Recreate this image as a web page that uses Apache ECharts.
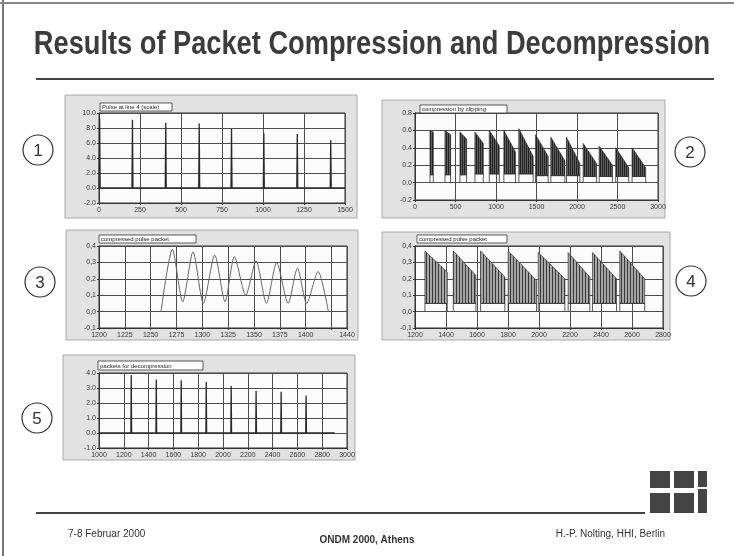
<!DOCTYPE html>
<html>
<head>
<meta charset="utf-8">
<script src="https://cdn.jsdelivr.net/npm/echarts@6/dist/echarts.min.js"></script>
<style>
html, body { margin: 0; padding: 0; background: #fff; }
#main { width: 734px; height: 556px; }
</style>
</head>
<body>
<div id="main"></div>
<script>
// chart 1: pulse at line
var pulseX1 = [4, 204, 407, 611, 808, 1005, 1209, 1413];
var pulsePeak1 = [9.3, 9.1, 8.7, 8.6, 7.9, 7.3, 7.2, 6.4];
var xLabels1 = ['0', '250', '500', '750', '1000', '1250', '1500'];
var yLabels1 = ['-2.0', '0.0', '2.0', '4.0', '6.0', '8.0', '10.0'];

// chart 2: compression, bursts
var burstStart2 = [185, 370, 555, 740, 917, 1097, 1282, 1488, 1677, 1870, 2076, 2273, 2478, 2680];
var burstEnd2 = [226, 440, 637, 843, 1040, 1241, 1459, 1644, 1850, 2035, 2240, 2437, 2639, 2848];
var burstTopA2 = [0.60, 0.60, 0.58, 0.58, 0.60, 0.60, 0.62, 0.55, 0.52, 0.52, 0.45, 0.42, 0.40, 0.40];
var burstTopB2 = [0.58, 0.55, 0.50, 0.45, 0.42, 0.35, 0.30, 0.30, 0.25, 0.22, 0.22, 0.20, 0.17, 0.17];
var burstLow2 = [0.09, 0.09, 0.09, 0.10, 0.10, 0.10, 0.10, 0.08, 0.08, 0.08, 0.07, 0.07, 0.07, 0.07];
var xLabels2 = ['0', '500', '1000', '1500', '2000', '2500', '3000'];
var yLabels2 = ['-0.2', '0.0', '0.2', '0.4', '0.6', '0.8'];

// chart 3: compressed pulse packet (zoomed)
var oscX3 = [1260, 1271, 1281, 1291, 1301, 1312, 1322, 1331, 1342, 1352, 1362, 1372, 1383, 1392, 1401, 1412, 1422];
var oscY3 = [0.0, 0.38, 0.06, 0.365, 0.05, 0.345, 0.06, 0.335, 0.10, 0.31, 0.05, 0.30, 0.05, 0.265, 0.05, 0.245, 0.0];
var xLabels3 = ['1200', '1225', '1250', '1275', '1300', '1325', '1350', '1375', '1400', '', '1440'];
var yLabels3 = ['-0,1', '0,0', '0,1', '0,2', '0,3', '0,4'];

// chart 4: compressed pulse packet
var burstStart4 = [1264, 1447, 1623, 1801, 1995, 2188, 2345, 2521];
var burstEnd4 = [1408, 1593, 1780, 1984, 2167, 2328, 2500, 2682];
var burstTopA4 = [0.37, 0.37, 0.37, 0.37, 0.36, 0.36, 0.36, 0.37];
var burstTopB4 = [0.24, 0.22, 0.21, 0.19, 0.20, 0.21, 0.20, 0.20];
var burstLow4 = [0.05, 0.05, 0.05, 0.05, 0.05, 0.05, 0.05, 0.05];
var xLabels4 = ['1200', '1400', '1600', '1800', '2000', '2200', '2400', '2600', '2800'];
var yLabels4 = ['-0,1', '0,0', '0,1', '0,2', '0,3', '0,4'];

// chart 5: packets for decompression
var pulseX5 = [1260, 1462, 1663, 1865, 2066, 2267, 2469, 2670];
var pulsePeak5 = [3.85, 3.57, 3.52, 3.40, 3.13, 2.80, 2.75, 2.50];
var xLabels5 = ['1000', '1200', '1400', '1600', '1800', '2000', '2200', '2400', '2600', '2800', '3000'];
var yLabels5 = ['-1.0', '0.0', '1.0', '2.0', '3.0', '4.0'];

var panelTitles = ['Pulse at line 4 (scale)', 'compression by clipping', 'compressed pulse packet',
    'compressed pulse packet', 'packets for decompression'];

// hatch pattern (transparent gaps) laid over a flat grey fill
function stripes(w, dark) {
    var c = document.createElement('canvas');
    c.width = w; c.height = 4;
    var ctx = c.getContext('2d');
    ctx.fillStyle = dark;
    ctx.fillRect(0, 0, 1, 4);
    return c;
}
var hatch2 = stripes(2, '#222222');
var hatch4 = stripes(3, '#383838');

function pulseLine(xs, peaks, x0, x1) {
    var pts = [[x0, 0]];
    for (var i = 0; i < xs.length; i++) {
        pts.push([xs[i] - 3, 0], [xs[i], peaks[i]], [xs[i] + 3, 0]);
    }
    pts.push([x1, 0]);
    return pts;
}

function burstData(s, e, a, b, lo) {
    var d = [];
    for (var i = 0; i < s.length; i++) d.push([s[i], e[i], a[i], b[i], lo[i]]);
    return d;
}

function burstRender(hatch, base) {
    return function (params, api) {
        var s = api.value(0), e = api.value(1), ta = api.value(2), tb = api.value(3), lo = api.value(4);
        var poly = [api.coord([s, lo]), api.coord([s, ta]), api.coord([e, tb]), api.coord([e, lo])];
        var step = [api.coord([s, 0]), api.coord([s, lo]), api.coord([e, lo]), api.coord([e, 0])];
        return {
            type: 'group',
            children: [
                { type: 'polygon', shape: { points: poly }, style: { fill: base, stroke: null } },
                { type: 'polygon', shape: { points: poly },
                  style: { fill: { image: hatch, repeat: 'repeat' }, stroke: '#333', lineWidth: 0.7 } },
                { type: 'polyline', shape: { points: step },
                  style: { fill: null, stroke: '#333', lineWidth: 0.8 } }
            ]
        };
    };
}

function labelFmt(labels) {
    return function (v, idx) { return labels[idx] !== undefined ? labels[idx] : ''; };
}

function makeAxis(dim, i, min, max, interval, labels) {
    return {
        type: 'value', gridIndex: i, min: min, max: max, interval: interval,
        axisLine: { show: true, onZero: false, lineStyle: { color: '#333', width: 1 } },
        axisTick: { show: true, length: 2, lineStyle: { color: '#333' } },
        splitLine: { show: true, lineStyle: { color: '#4d4d4d', width: 1 } },
        axisLabel: { fontSize: 7, color: '#333', margin: dim === 'x' ? 4 : 3,
            fontFamily: 'Liberation Sans', formatter: labelFmt(labels) }
    };
}

var grids = [
    { left: 99, top: 113, width: 246, height: 90 },
    { left: 415, top: 113, width: 243, height: 87 },
    { left: 99, top: 246, width: 248, height: 82 },
    { left: 415, top: 246, width: 248, height: 82 },
    { left: 99, top: 373, width: 248, height: 75 }
];
grids.forEach(function (g) {
    g.show = true; g.backgroundColor = '#fcfcfc'; g.borderColor = '#333'; g.borderWidth = 1;
});

var panels = [
    [65, 95, 292, 123], [382, 100, 283, 118], [66, 230, 292, 110], [382, 232, 288, 108], [63, 355, 292, 105]
];
var titleBoxes = [
    [100, 103, 72, 8], [420, 105, 87, 8], [99, 235, 97, 8], [417, 235, 90, 8], [98, 361, 105, 9]
];
var circles = [[38, 150, '1'], [690, 152, '2'], [40, 282, '3'], [691, 281, '4'], [37, 418, '5']];

var graphics = [
    { type: 'line', shape: { x1: 3, y1: 0, x2: 3, y2: 556 }, style: { stroke: '#777', lineWidth: 2 }, z: -20 },
    { type: 'line', shape: { x1: 0, y1: 3, x2: 734, y2: 3 }, style: { stroke: '#888', lineWidth: 2 }, z: -20 },
    { type: 'text', x: 372, y: 45, scaleX: 0.825, z: 10,
      style: { text: 'Results of Packet Compression and Decompression', x: 0, y: 0,
          textAlign: 'center', textVerticalAlign: 'middle',
          font: 'bold 33px "Liberation Sans", Arial, sans-serif', fill: '#3c3c3c' } },
    { type: 'line', shape: { x1: 36, y1: 79, x2: 714, y2: 79 }, style: { stroke: '#444', lineWidth: 2 } },
    { type: 'line', shape: { x1: 36, y1: 513, x2: 645, y2: 513 }, style: { stroke: '#444', lineWidth: 2 } },
    { type: 'rect', shape: { x: 650, y: 471, width: 20, height: 17 }, style: { fill: '#444' } },
    { type: 'rect', shape: { x: 674, y: 471, width: 20, height: 17 }, style: { fill: '#444' } },
    { type: 'rect', shape: { x: 698, y: 471, width: 9, height: 16 }, style: { fill: '#444' } },
    { type: 'rect', shape: { x: 650, y: 493, width: 20, height: 20 }, style: { fill: '#444' } },
    { type: 'rect', shape: { x: 674, y: 493, width: 20, height: 20 }, style: { fill: '#444' } },
    { type: 'rect', shape: { x: 698, y: 489, width: 9, height: 24 }, style: { fill: '#444' } },
    { type: 'text', style: { text: '7-8 Februar 2000', x: 68, y: 534, textVerticalAlign: 'middle',
          font: '10px "Liberation Sans", Arial, sans-serif', fill: '#333' } },
    { type: 'text', style: { text: 'ONDM 2000, Athens', x: 367, y: 540, textAlign: 'center', textVerticalAlign: 'middle',
          font: 'bold 10px "Liberation Sans", Arial, sans-serif', fill: '#333' } },
    { type: 'text', style: { text: 'H.-P. Nolting, HHI, Berlin', x: 665, y: 534, textAlign: 'right', textVerticalAlign: 'middle',
          font: '10px "Liberation Sans", Arial, sans-serif', fill: '#333' } }
];
panels.forEach(function (p) {
    graphics.push({ type: 'rect', z: -10, shape: { x: p[0], y: p[1], width: p[2], height: p[3] },
        style: { fill: '#e2e2e2', stroke: '#a8a8a8', lineWidth: 1 } });
});
titleBoxes.forEach(function (b, i) {
    graphics.push({ type: 'rect', z: 20, shape: { x: b[0], y: b[1], width: b[2], height: b[3] },
        style: { fill: '#fff', stroke: '#333', lineWidth: 0.8 } });
    graphics.push({ type: 'text', z: 21, style: { text: panelTitles[i], x: b[0] + 2, y: b[1] + b[3] / 2 + 0.5,
        textVerticalAlign: 'middle', font: '6px "Liberation Sans", Arial, sans-serif', fill: '#222' } });
});
circles.forEach(function (c) {
    graphics.push({ type: 'circle', shape: { cx: c[0], cy: c[1], r: 15 },
        style: { fill: '#fff', stroke: '#333', lineWidth: 1.2 } });
    graphics.push({ type: 'text', style: { text: c[2], x: c[0], y: c[1] + 1, textAlign: 'center',
        textVerticalAlign: 'middle', font: '17px "Liberation Sans", Arial, sans-serif', fill: '#333' } });
});

var myChart = echarts.init(document.getElementById('main'));

var option = {
    animation: false,
    backgroundColor: '#fff',
    grid: grids,
    xAxis: [
        makeAxis('x', 0, 0, 1500, 250, xLabels1),
        makeAxis('x', 1, 0, 3000, 500, xLabels2),
        makeAxis('x', 2, 1200, 1440, 25, xLabels3),
        makeAxis('x', 3, 1200, 2800, 200, xLabels4),
        makeAxis('x', 4, 1000, 3000, 200, xLabels5)
    ],
    yAxis: [
        makeAxis('y', 0, -2, 10, 2, yLabels1),
        makeAxis('y', 1, -0.2, 0.8, 0.2, yLabels2),
        makeAxis('y', 2, -0.1, 0.4, 0.1, yLabels3),
        makeAxis('y', 3, -0.1, 0.4, 0.1, yLabels4),
        makeAxis('y', 4, -1, 4, 1, yLabels5)
    ],
    graphic: graphics,
    series: [
        { type: 'line', xAxisIndex: 0, yAxisIndex: 0, symbol: 'none',
          lineStyle: { color: '#2a2a2a', width: 1.3 }, data: pulseLine(pulseX1, pulsePeak1, 0, 1500) },
        { type: 'custom', xAxisIndex: 1, yAxisIndex: 1, renderItem: burstRender(hatch2, '#5e5e5e'),
          encode: { x: [0, 1], y: [2, 3, 4] }, data: burstData(burstStart2, burstEnd2, burstTopA2, burstTopB2, burstLow2) },
        { type: 'line', xAxisIndex: 2, yAxisIndex: 2, symbol: 'none', smooth: 0.25,
          lineStyle: { color: '#666', width: 1 }, data: oscX3.map(function (x, i) { return [x, oscY3[i]]; }) },
        { type: 'custom', xAxisIndex: 3, yAxisIndex: 3, renderItem: burstRender(hatch4, '#a6a6a6'),
          encode: { x: [0, 1], y: [2, 3, 4] }, data: burstData(burstStart4, burstEnd4, burstTopA4, burstTopB4, burstLow4) },
        { type: 'line', xAxisIndex: 4, yAxisIndex: 4, symbol: 'none',
          lineStyle: { color: '#2a2a2a', width: 1.3 }, data: pulseLine(pulseX5, pulsePeak5, 1000, 2900) }
    ]
};

myChart.setOption(option);
</script>
</body>
</html>
